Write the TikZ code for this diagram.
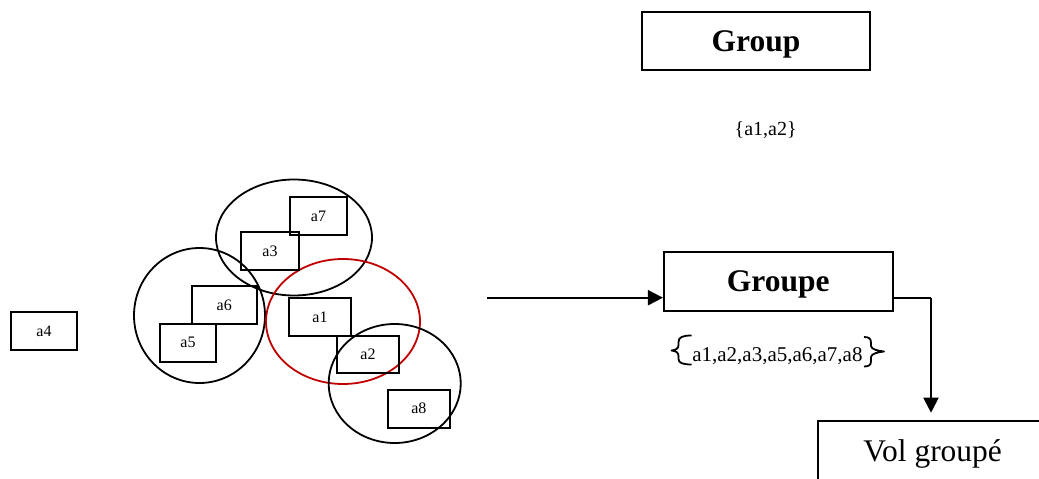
\documentclass[tikz,border=0pt]{standalone}
\usepackage{fontspec}
\setmainfont{Liberation Serif}
\usetikzlibrary{arrows.meta}
\definecolor{setred}{RGB}{192,0,0}
\begin{document}
\begin{tikzpicture}[x=1pt,y=-1pt,
  elem/.style={draw, line width=1.8pt, inner sep=0pt, font=\fontsize{16}{16}\selectfont},
  title/.style={draw, line width=2pt, inner sep=0pt, minimum width=228pt, minimum height=58.5pt,
    text height=21pt, text depth=0pt},
  free/.style={inner sep=0pt},
  grp/.style={line width=1.8pt},
  curly/.style={line width=1.8pt, line join=round},
  flow/.style={line width=2pt, -{Triangle[length=15pt,width=15pt]}}
]
\clip (0,0) rectangle (1039,479);

% grouping ellipses
\draw[grp] (294,237.5) ellipse [x radius=78, y radius=58];
\draw[grp] (199.5,315.5) ellipse [x radius=65.5, y radius=67.5];
\draw[grp, setred] (343,321.5) ellipse [x radius=77, y radius=62.5];
\draw[grp] (394.7,383.5) ellipse [x radius=66, y radius=59.5];

% element boxes
\node[elem, minimum width=57pt, minimum height=38pt] (a7) at (318.5,216) {a7};
\node[elem, minimum width=58.5pt, minimum height=38pt] (a3) at (270,251) {a3};
\node[elem, minimum width=65pt, minimum height=38pt] (a6) at (224.2,305) {a6};
\node[elem, minimum width=56.5pt, minimum height=37.7pt] (a5) at (188,342.8) {a5};
\node[elem, minimum width=62pt, minimum height=37.7pt] (a1) at (320,316.8) {a1};
\node[elem, minimum width=62pt, minimum height=37.3pt] (a2) at (368,354.3) {a2};
\node[elem, minimum width=62.3pt, minimum height=38pt] (a8) at (418.8,408.7) {a8};
\node[elem, minimum width=66pt, minimum height=38pt] (a4) at (44,331) {a4};

% right-hand part
\node[title, font=\fontsize{31.5}{31.5}\selectfont\bfseries] (group) at (756,41) {Group};
\node[free, font=\fontsize{20}{20}\selectfont] (pair) at (765.7,130) {\{a1,a2\}};

\node[title, minimum width=228.7pt, font=\fontsize{31.5}{31.5}\selectfont\bfseries] (groupe) at (778.3,281.3) {Groupe};
\node[free, anchor=base, font=\fontsize{21}{21}\selectfont] (members) at (777.4,361) {a1,a2,a3,a5,a6,a7,a8};

% curly brackets round the member list
\draw[curly] (691.5,335.5) .. controls (683,335.5) and (678.5,337) .. (678.5,342)
  -- (678.5,345) .. controls (678.5,348.5) and (676,350) .. (671.5,350.5)
  .. controls (676,351) and (678.5,352.5) .. (678.5,356)
  -- (678.5,359) .. controls (678.5,363) and (683,364.5) .. (691.5,364.5);
\draw[curly] (864,337) .. controls (869,337) and (871,338.5) .. (871,343)
  -- (871,346) .. controls (871,349.5) and (879,351) .. (884,351.5)
  .. controls (879,352) and (871,353.5) .. (871,357)
  -- (871,361) .. controls (871,365) and (869,366.5) .. (864,366.5);

\node[draw, line width=2pt, anchor=north west, minimum width=230pt, inner ysep=8pt,
  text height=32pt, text depth=60pt, font=\fontsize{31.5}{31.5}\selectfont] (vol) at (816.7,420) {Vol groupé};

% connectors
\coordinate (src) at (487,297.7);
\coordinate (bend) at (931,297.7);
\coordinate (tip) at (931,412.7);
\draw[flow] (src) -- (src -| groupe.west);
\draw[line width=2pt] (bend -| groupe.east) -- (bend);
\draw[flow] (bend) -- (tip);
\end{tikzpicture}
\end{document}
